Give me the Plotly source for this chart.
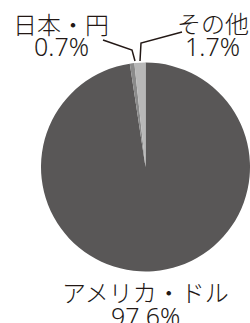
import plotly.graph_objects as go

labels = ["アメリカ・ドル", "日本・円", "その他"]
values = [97.6, 0.7, 1.7]
pct_text = ["97.6%", "0.7%", "1.7%"]
colors = ["#595757", "#8a8a8a", "#b8b8b8"]

W, H = 250, 323

def px(x):
    return x / W

def py(y):
    return (H - y) / H

fig = go.Figure(go.Pie(
    labels=labels,
    values=values,
    sort=False,
    direction="clockwise",
    rotation=0,
    textinfo="none",
    hoverinfo="skip",
    marker=dict(colors=colors, line=dict(width=0)),
    domain=dict(x=[px(41), 1.0], y=[py(272), py(62)]),
    showlegend=False,
))

lab_font = dict(family="Noto Sans CJK JP, Noto Sans, sans-serif", size=24, color="#231815", weight=300)
pct_font = dict(family="Noto Sans, Noto Sans CJK JP, sans-serif", size=25, color="#231815", weight=300)

label_pos = {
    "日本・円": ((61, 23), (61, 46)),
    "その他": ((213, 22), (212, 46)),
    "アメリカ・ドル": ((145, 291), (145, 316)),
}
anns = []
for lab, pt in zip(labels, pct_text):
    (x1, y1), (x2, y2) = label_pos[lab]
    anns.append(dict(x=px(x1), y=py(y1), xref="paper", yref="paper", text=lab,
                     showarrow=False, xanchor="center", yanchor="middle", font=lab_font))
    anns.append(dict(x=px(x2), y=py(y2), xref="paper", yref="paper", text=pt,
                     showarrow=False, xanchor="center", yanchor="middle", font=pct_font))

leaders = [
    [(103, 40), (132, 50), (135, 61)],
    [(182, 32), (141, 43), (140, 61)],
]
shapes = []
for pts in leaders:
    path = "M " + " L ".join(f"{px(x)},{py(y)}" for x, y in pts)
    shapes.append(dict(type="path", xref="paper", yref="paper", path=path,
                       line=dict(color="#231815", width=1.5)))

fig.update_layout(
    width=W, height=H,
    margin=dict(l=0, r=0, t=0, b=0),
    paper_bgcolor="white", plot_bgcolor="white",
    annotations=anns, shapes=shapes,
)

fig.write_html(
    "out.html",
    config={"displayModeBar": False, "staticPlot": True},
    post_script="document.body.style.margin='0';document.body.style.padding='0';document.body.style.overflow='hidden';",
)
